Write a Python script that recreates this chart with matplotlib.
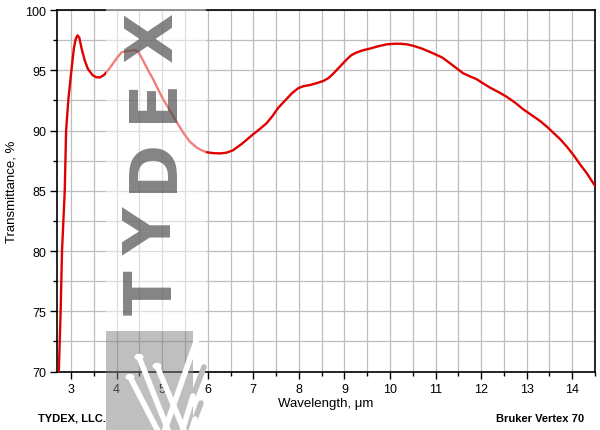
import matplotlib.pyplot as plt
from matplotlib.lines import Line2D
from matplotlib.patches import Rectangle, Circle
from matplotlib.ticker import MultipleLocator

# spectrum
wavelength = [2.73, 2.77, 2.80, 2.86, 2.89, 2.94, 3.01, 3.06, 3.10, 3.14, 3.18, 3.23,
              3.30, 3.37, 3.47, 3.55, 3.63, 3.72, 3.80, 3.89, 4.00, 4.11, 4.25, 4.33,
              4.40, 4.48, 4.58, 4.69, 4.80, 4.91, 5.02, 5.13, 5.24, 5.35, 5.46, 5.60,
              5.75, 5.87, 5.97, 6.12, 6.27, 6.40, 6.55, 6.75, 7.00, 7.15, 7.29, 7.42,
              7.55, 7.70, 7.85, 7.98, 8.10, 8.24, 8.38, 8.53, 8.65, 8.75, 8.90, 9.05,
              9.15, 9.27, 9.40, 9.56, 9.75, 9.93, 10.10, 10.22, 10.37, 10.51, 10.70,
              10.95, 11.15, 11.31, 11.45, 11.60, 11.75, 11.90, 12.05, 12.19, 12.40,
              12.56, 12.75, 12.92, 13.10, 13.29, 13.45, 13.58, 13.73, 13.88, 14.03,
              14.17, 14.33, 14.50]
transmittance = [70.0, 75.0, 80.0, 85.0, 90.0, 92.6, 95.1, 96.8, 97.6, 97.9, 97.7, 96.8,
                 95.8, 95.1, 94.6, 94.42, 94.4, 94.6, 94.95, 95.4, 96.0, 96.5, 96.6, 96.62,
                 96.7, 96.5, 95.8, 95.0, 94.26, 93.4, 92.6, 91.9, 91.2, 90.5, 89.83, 89.1,
                 88.6, 88.35, 88.2, 88.12, 88.1, 88.15, 88.35, 88.9, 89.7, 90.15, 90.6, 91.2,
                 91.9, 92.5, 93.1, 93.5, 93.68, 93.77, 93.92, 94.1, 94.35, 94.7, 95.3, 95.9,
                 96.25, 96.48, 96.65, 96.8, 97.0, 97.15, 97.2, 97.2, 97.15, 97.03, 96.8,
                 96.4, 96.05, 95.6, 95.2, 94.76, 94.5, 94.26, 93.9, 93.57, 93.15,
                 92.8, 92.3, 91.77, 91.3, 90.8, 90.3, 89.83, 89.3, 88.67, 87.95,
                 87.2, 86.4, 85.4]

W, H = 600, 431
plt.rcParams['font.family'] = ['Liberation Sans', 'DejaVu Sans']

fig = plt.figure(figsize=(6, 4.31), dpi=100)
ax = fig.add_axes([57 / W, 1 - 372.5 / H, 538 / W, 361.5 / H])

ax.plot(wavelength, transmittance, color='#e00000', lw=1.7, zorder=3,
        solid_joinstyle='round')

ax.set_xlim(2.69, 14.5)
ax.set_ylim(70, 100)
ax.xaxis.set_major_locator(MultipleLocator(1))
ax.xaxis.set_minor_locator(MultipleLocator(0.5))
ax.yaxis.set_major_locator(MultipleLocator(5))
ax.yaxis.set_minor_locator(MultipleLocator(2.5))
ax.grid(True, which='both', color='#bebebe', lw=0.9)
ax.set_axisbelow(True)
ax.tick_params(which='major', direction='out', length=5, width=1, labelsize=9, pad=3)
ax.tick_params(which='minor', direction='out', length=3, width=1)
for s in ax.spines.values():
    s.set_linewidth(1.2)

ax.set_xlabel('Wavelength, \u03bcm', fontsize=9.5, labelpad=2)
ax.set_ylabel('Transmittance, %', fontsize=9.5, labelpad=5)

fig.text(38 / W, 1 - 419 / H, 'TYDEX, LLC.', fontsize=8, fontweight='bold', va='center')
fig.text(584 / W, 1 - 419 / H, 'Bruker Vertex 70', fontsize=8, fontweight='bold',
         va='center', ha='right')


# watermark, in pixel coordinates of the figure
def fx(px):
    return px / W


def fy(py):
    return 1 - py / H


fig.add_artist(Rectangle((fx(106), fy(333)), 100 / W, 333 / H, transform=fig.transFigure,
                         facecolor='white', alpha=0.5, edgecolor='none', zorder=5))

letters = ['T', 'Y', 'D', 'E', 'X']
centres = [293, 231, 165, 100, 37]
for ch, cy in zip(letters, centres):
    fig.text(fx(153.5), fy(cy), ch, rotation=90, fontsize=47, fontweight='bold',
             family='DejaVu Sans', color='#505050', alpha=0.7,
             ha='center', va='center', zorder=6)

# logo block
fig.add_artist(Rectangle((fx(106), 0), 87 / W, 99 / H, transform=fig.transFigure,
                         facecolor='#808080', alpha=0.5, edgecolor='none', zorder=6))
for x0, y0, x1, y1 in [(204, 368, 193, 397), (201, 404, 195, 420)]:
    fig.add_artist(Line2D([fx(x0), fx(x1)], [fy(y0), fy(y1)], transform=fig.transFigure,
                          color='#bdbdbd', lw=4, solid_capstyle='round', zorder=6))
for x0, y0, x1, y1 in [(139, 358, 170, 436), (157, 367, 186, 436), (130, 378, 160, 436),
                       (198, 337, 163, 436), (193, 397, 181, 436), (195, 420, 190, 436)]:
    fig.add_artist(Line2D([fx(x0), fx(x1)], [fy(y0), fy(y1)], transform=fig.transFigure,
                          color='white', lw=4, solid_capstyle='round', zorder=7))
for cx, cy in [(139, 358), (157, 367), (130, 378)]:
    fig.add_artist(Circle((fx(cx), fy(cy)), 4.5 / W, transform=fig.transFigure,
                          facecolor='white', edgecolor='none', zorder=7))

fig.savefig('out.png', dpi=100)
